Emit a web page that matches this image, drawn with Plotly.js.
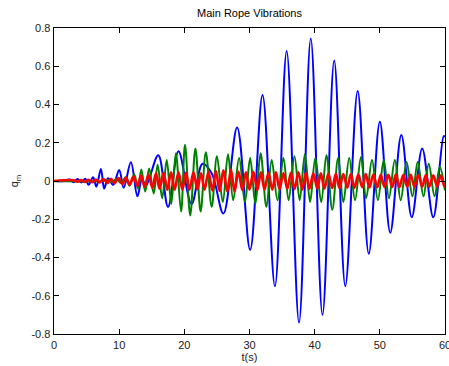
<!DOCTYPE html>
<html>
<head>
<meta charset="utf-8">
<script src="https://cdn.plot.ly/plotly-3.0.1.min.js"></script>
<style>html,body{margin:0;padding:0;background:#fff;}#chart{width:449px;height:366px;}</style>
</head>
<body>
<div id="chart"></div>
<script>
// Blue series: extrema (t, q)
var blueT = [0, 1.5, 2.4, 3.0, 3.6, 4.2, 4.8, 5.3, 6.0, 6.5, 7.2, 7.7, 8.3, 9.1, 10.0, 10.7, 11.8, 12.8, 13.5, 14.1, 16.0, 17.5, 19.1, 21.1, 22.8, 24.2, 26.0, 28.1, 30.1, 32.0, 33.9, 35.7, 37.6, 39.4, 41.2, 43.0, 44.7, 46.6, 48.3, 50.0, 51.6, 53.3, 54.9, 56.5, 58.2, 59.8, 60.0];
var blueV = [0, 0, 0.008, -0.006, 0.01, -0.008, 0.012, -0.02, 0.02, -0.03, 0.063, -0.04, 0.014, -0.02, 0.058, -0.035, 0.098, -0.08, 0.01, -0.025, 0.135, -0.135, 0.155, -0.12, 0.09, 0.04, -0.17, 0.28, -0.36, 0.45, -0.55, 0.68, -0.74, 0.745, -0.70, 0.63, -0.55, 0.47, -0.38, 0.31, -0.27, 0.24, -0.19, 0.17, -0.19, 0.235, 0.23];

// Green series
var greenT = [0, 7.5, 8.2, 8.9, 9.6, 10.3, 11.0, 11.6, 12.3, 12.9, 13.4, 14.0, 14.6, 15.3, 15.9, 16.6, 17.3, 18.0, 18.7, 19.5, 20.1, 20.9, 21.7, 22.5, 23.3, 24.2, 25.0, 25.9, 26.7, 27.5, 28.4, 29.3, 30.1, 30.9, 31.7, 32.6, 33.4, 34.3, 35.2, 36.0, 36.9, 37.7, 38.5, 39.3, 40.1, 41.0, 41.8, 42.7, 43.6, 44.4, 45.3, 46.2, 47.1, 47.9, 48.8, 49.7, 50.6, 51.4, 52.3, 53.2, 54.1, 55.0, 55.8, 56.7, 57.5, 58.4, 59.2, 60.0];
var greenV = [0, 0, 0.005, -0.006, 0.01, -0.012, 0.02, -0.025, 0.035, -0.04, 0.06, -0.055, 0.066, -0.065, 0.085, -0.09, 0.11, -0.12, 0.145, -0.16, 0.19, -0.18, 0.17, -0.16, 0.15, -0.135, 0.13, -0.11, 0.14, -0.10, 0.12, -0.11, 0.12, -0.12, 0.145, -0.135, 0.11, -0.10, 0.12, -0.10, 0.13, -0.10, 0.14, -0.11, 0.12, -0.11, 0.135, -0.15, 0.12, -0.11, 0.12, -0.10, 0.125, -0.09, 0.11, -0.10, 0.11, -0.09, 0.11, -0.10, 0.10, -0.08, 0.10, -0.08, 0.09, -0.08, 0.075, -0.05];

// Red series
var redT = [0, 3.0, 3.6, 4.15, 4.7, 5.3, 5.9, 6.45, 7.0, 7.6, 8.2, 8.75, 9.3, 9.9, 10.5, 11.05, 11.6, 12.2, 12.8, 13.35, 13.9, 14.5, 15.1, 15.65, 16.2, 16.8, 17.4, 17.95, 18.5, 19.1, 19.7, 20.25, 20.8, 21.4, 22.0, 22.55, 23.1, 23.7, 24.3, 24.85, 25.4, 26.0, 26.6, 27.15, 27.7, 28.3, 28.9, 29.45, 30.0, 30.6, 31.2, 31.75, 32.3, 32.9, 33.5, 34.05, 34.6, 35.2, 35.8, 36.35, 36.9, 37.5, 38.1, 38.65, 39.2, 39.8, 40.4, 40.95, 41.5, 42.1, 42.7, 43.25, 43.8, 44.4, 45.0, 45.55, 46.1, 46.7, 47.3, 47.85, 48.4, 49.0, 49.6, 50.15, 50.7, 51.3, 51.9, 52.45, 53.0, 53.6, 54.2, 54.75, 55.3, 55.9, 56.5, 57.05, 57.6, 58.2, 58.8, 59.35, 59.9, 60.0];
var redV = [0, 0.004, -0.004, 0.005, -0.005, 0.006, -0.006, 0.008, -0.008, 0.01, -0.01, 0.012, -0.012, 0.015, -0.016, 0.018, -0.02, 0.023, -0.025, 0.028, -0.03, 0.033, -0.035, 0.04, -0.04, 0.042, -0.045, 0.045, -0.046, 0.045, -0.045, 0.043, -0.045, 0.045, -0.043, 0.04, -0.045, 0.048, -0.05, 0.052, -0.052, 0.056, -0.056, 0.06, -0.055, 0.05, -0.048, 0.045, -0.045, 0.048, -0.048, 0.045, -0.045, 0.043, -0.045, 0.045, -0.043, 0.04, -0.04, 0.043, -0.043, 0.045, -0.045, 0.043, -0.04, 0.04, -0.038, 0.04, -0.04, 0.038, -0.036, 0.038, -0.037, 0.036, -0.034, 0.036, -0.036, 0.034, -0.032, 0.036, -0.034, 0.034, -0.032, 0.032, -0.031, 0.032, -0.031, 0.034, -0.032, 0.031, -0.03, 0.032, -0.031, 0.031, -0.03, 0.031, -0.029, 0.03, -0.029, 0.03, -0.028, -0.027];

var xTicks = [0, 10, 20, 30, 40, 50, 60];
var yTicks = [-0.8, -0.6, -0.4, -0.2, 0, 0.2, 0.4, 0.6, 0.8];
var yTickText = ['-0.8', '-0.6', '-0.4', '-0.2', '0', '0.2', '0.4', '0.6', '0.8'];

var FONT = 'Liberation Sans, Arial, sans-serif';

var traces = [
  {x: blueT, y: blueV, type: 'scatter', mode: 'lines', line: {color: '#0000ff', width: 2, shape: 'spline', smoothing: 1}},
  {x: greenT, y: greenV, type: 'scatter', mode: 'lines', line: {color: '#008000', width: 2, shape: 'spline', smoothing: 1}},
  {x: redT, y: redV, type: 'scatter', mode: 'lines', line: {color: '#ff0000', width: 2.6, shape: 'spline', smoothing: 1}}
];

var axisCommon = {
  showline: true, linecolor: '#000', linewidth: 1.4, mirror: 'ticks',
  ticks: 'inside', ticklen: 5, tickcolor: '#000', tickwidth: 1,
  showgrid: false, zeroline: false, ticklabeloverflow: 'allow',
  tickfont: {family: FONT, size: 11, color: '#222'}
};

var layout = {
  width: 449, height: 366,
  margin: {l: 54, r: 4, t: 28, b: 32},
  paper_bgcolor: '#fff', plot_bgcolor: '#fff',
  showlegend: false,
  title: {text: 'Main Rope Vibrations', font: {family: FONT, size: 11, color: '#000'},
          x: 0.5, xref: 'paper', y: 1 - 13 / 366, yref: 'container', yanchor: 'middle'},
  xaxis: Object.assign({}, axisCommon, {
    range: [0, 60], tickmode: 'array', tickvals: xTicks,
    title: {text: 't(s)', font: {family: FONT, size: 11, color: '#222'}, standoff: 2}
  }),
  yaxis: Object.assign({}, axisCommon, {
    range: [-0.8, 0.8], tickmode: 'array', tickvals: yTicks, ticktext: yTickText,
    title: {text: 'q<sub>m</sub>', font: {family: FONT, size: 11, color: '#222'}, standoff: 10}
  })
};

Plotly.newPlot('chart', traces, layout, {staticPlot: true, displayModeBar: false});
</script>
</body>
</html>
